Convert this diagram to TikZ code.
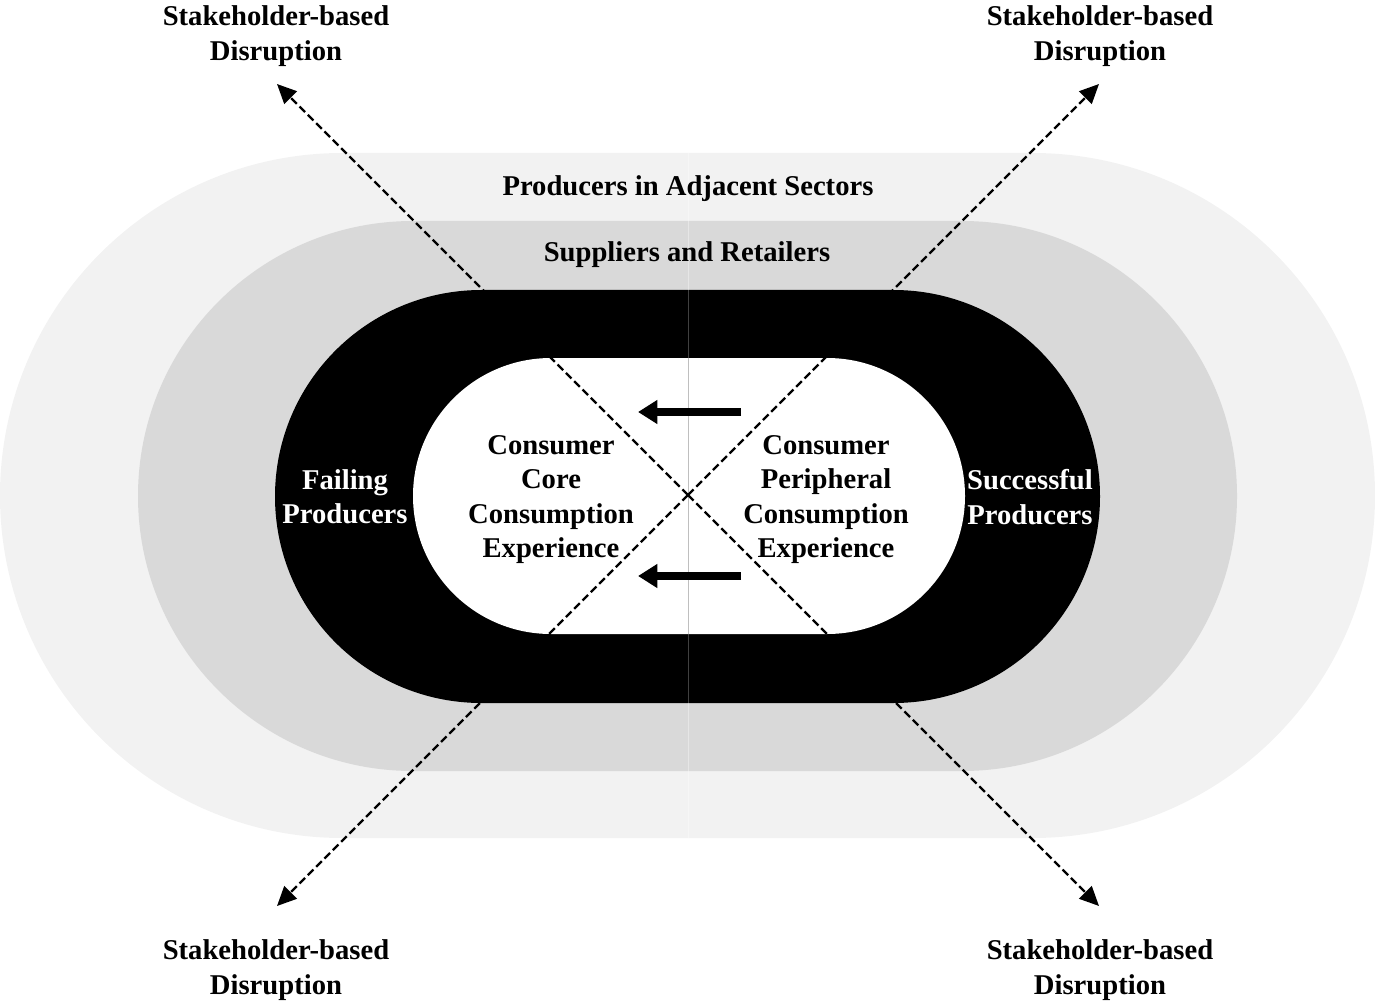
\documentclass[tikz,border=0pt]{standalone}
\usepackage{fontspec}
\setmainfont{Liberation Serif}
\usetikzlibrary{arrows.meta}
\begin{document}
\begin{tikzpicture}[x=0.02cm,y=-0.02cm,
  lbl/.style={font=\fontsize{16.3}{19.6}\selectfont\bfseries, align=center, inner sep=0pt},
  wlbl/.style={lbl, text=white},
  disrupt/.style={line width=1.3pt, dash pattern=on 4.5pt off 2.2pt, -{Triangle[length=11pt,width=10pt]}},
  shiftarrow/.style={line width=4.2pt, -{Triangle[length=11pt,width=13pt]}}]
\useasboundingbox (0,0) rectangle (1375,1003);
\definecolor{outergray}{HTML}{F2F2F2}
\definecolor{midgray}{HTML}{D9D9D9}
% rings
\fill[outergray, rounded corners=6.85cm] (0,153) rectangle (1375,838);
\fill[midgray, rounded corners=5.5cm] (138,221) rectangle (1237,771);
\fill[black, rounded corners=4.13cm] (275,290) rectangle (1100,703);
\fill[white, rounded corners=2.76cm] (413,358) rectangle (965,634);
% seam
\draw[white, opacity=0.35, line width=0.5pt] (688,153) -- (688,290);
\draw[white, opacity=0.35, line width=0.5pt] (688,703) -- (688,838);
\draw[gray, opacity=0.5, line width=0.5pt] (688,290) -- (688,703);
% labels
\node[lbl] (outer) at (688,189) {Producers in Adjacent Sectors};
\node[lbl] (mid) at (687,255) {Suppliers and Retailers};
\node[wlbl] (fail) at (345,497) {Failing\\Producers};
\node[wlbl] (succ) at (1030,497) {Successful\\Producers};
\node[lbl] (core) at (551,499.5) {Consumer\\Core\\Consumption\\Experience};
\node[lbl] (peri) at (826,499.5) {Consumer\\Peripheral\\Consumption\\Experience};
\node[lbl] (stl) at (276,36) {Stakeholder-based\\Disruption};
\node[lbl] (str) at (1100,36) {Stakeholder-based\\Disruption};
\node[lbl] (sbl) at (276,970) {Stakeholder-based\\Disruption};
\node[lbl] (sbr) at (1100,970) {Stakeholder-based\\Disruption};
% disruption arrows
\coordinate (c) at (688,495);
\coordinate (tl) at (277,84);
\coordinate (tr) at (1099,84);
\coordinate (bl) at (277,906);
\coordinate (br) at (1099,906);
\draw[disrupt] (c) -- (tl);
\draw[disrupt] (c) -- (tr);
\draw[disrupt] (c) -- (bl);
\draw[disrupt] (c) -- (br);
% shift arrows
\coordinate (a1s) at (741,412);
\coordinate (a1e) at (638,412);
\coordinate (a2s) at (741,576);
\coordinate (a2e) at (638,576);
\draw[shiftarrow] (a1s) -- (a1e);
\draw[shiftarrow] (a2s) -- (a2e);
\end{tikzpicture}
\end{document}
